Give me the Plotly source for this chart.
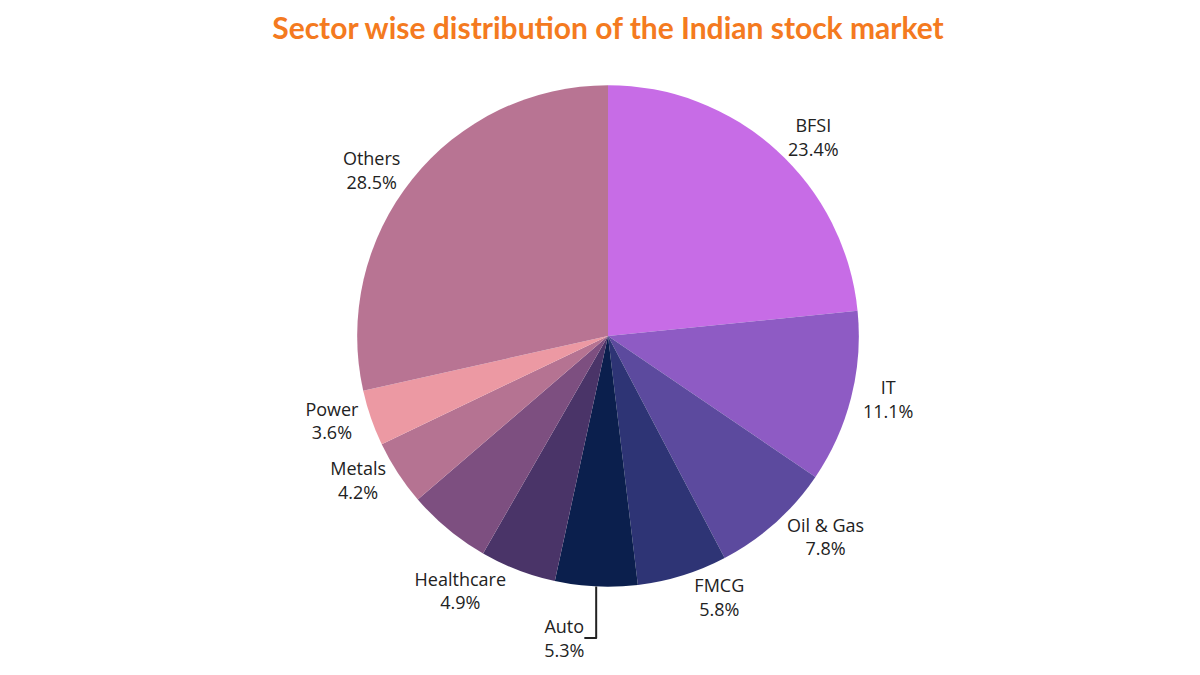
import plotly.graph_objects as go

labels = ["BFSI", "IT", "Oil & Gas", "FMCG", "Auto", "Healthcare", "Consumer", "Metals", "Power", "Others"]
values = [23.4, 11.1, 7.8, 5.8, 5.3, 4.9, 5.4, 4.2, 3.6, 28.5]
colors = ["#c76ce6", "#8e5bc4", "#5c4a9e", "#2e3475", "#0b1f4d", "#4a3468",
          "#7d4f80", "#b57392", "#ec99a3", "#b87493"]
texts = [f"{l}<br>{v}%" for l, v in zip(labels, values)]
texts[6] = ""

fig = go.Figure(go.Pie(
    labels=labels, values=values, sort=False, direction="clockwise", rotation=0,
    marker=dict(colors=colors), text=texts, textinfo="text", textposition="outside",
    textfont=dict(family="Open Sans", size=18, color="#222"),
    showlegend=False, hoverinfo="label+value", automargin=False,
    domain=dict(x=[0.1, 0.9], y=[0.12, 0.91])
))
fig.update_layout(
    width=1200, height=675, paper_bgcolor="white",
    margin=dict(l=20, r=20, t=20, b=20),
    title=dict(text="<b>Sector wise distribution of the Indian stock market</b>",
               x=0.5, y=0.985, font=dict(family="Lato", size=30, color="#f47a20")),
)
fig.write_html("out.html")
